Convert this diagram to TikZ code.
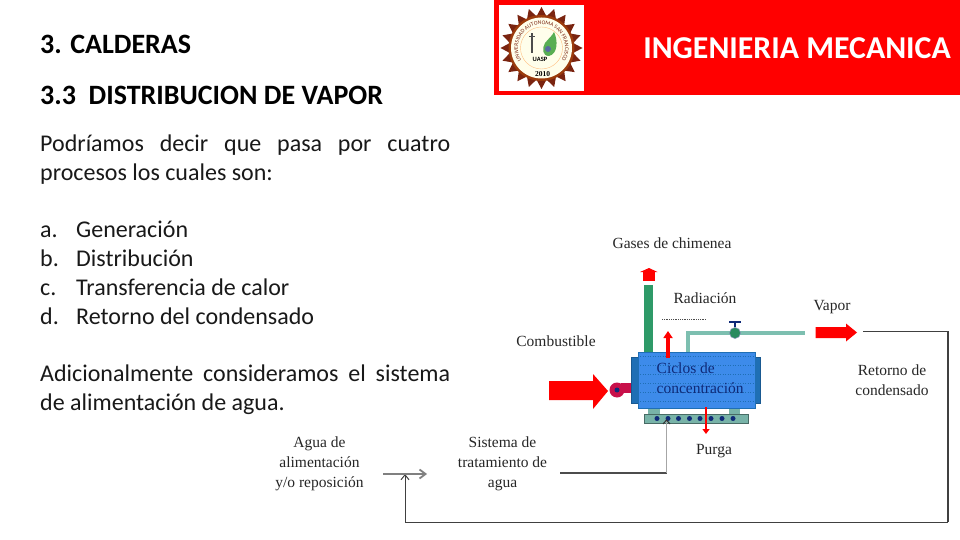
\documentclass[tikz,border=0pt]{standalone}
\usepackage{fontspec}
\setmainfont{Carlito}
\newfontfamily\diag{Liberation Serif}
\usetikzlibrary{arrows.meta,decorations.text}
\definecolor{bannerred}{HTML}{FF0000}
\definecolor{boilerblue}{HTML}{3D8BEA}
\definecolor{capblue}{HTML}{1F6FB5}
\definecolor{stackgreen}{HTML}{2E9A68}
\definecolor{pipegreen}{HTML}{7DBFB0}
\definecolor{basegreen}{HTML}{78B3A8}
\definecolor{navy}{HTML}{0F2A78}
\definecolor{crimson}{HTML}{C8104A}
\definecolor{maroon}{HTML}{7A2410}
\tikzset{
  x=1pt,y=-1pt,
  head/.style={anchor=base west,inner sep=0pt,font=\bfseries\fontsize{28}{29}\selectfont,text=black},
  body/.style={anchor=base west,inner sep=0pt,font=\fontsize{24}{29}\selectfont,text=black!90},
  lbl/.style={inner sep=0pt,align=center,font=\diag\fontsize{15.5}{20}\selectfont,text=black!85},
  thinred/.style={draw=bannerred,line width=2.2pt,-{Triangle[length=5pt,width=7pt]}},
  retline/.style={draw=black!75,line width=1.3pt},
  grayline/.style={draw=black!50,line width=1.8pt},
  bluebox/.style={draw=capblue,line width=1pt,fill=boilerblue,inner sep=0pt},
  capbox/.style={draw=capblue!80!black,line width=.8pt,fill=capblue,inner sep=0pt},
  footbox/.style={fill=basegreen,inner sep=0pt},
  dotn/.style={circle,fill=navy,inner sep=0pt,minimum size=5pt}
}
\begin{document}
\begin{tikzpicture}
\useasboundingbox (0,0) rectangle (960,540);
\fill[white] (0,0) rectangle (960,540);
% banner
\node[fill=bannerred,minimum width=466pt,minimum height=95pt,inner sep=0pt,anchor=north west] (banner) at (494,0) {};
\node[fill=white,minimum width=85pt,minimum height=86pt,inner sep=0pt,anchor=north west] (logobg) at (499,5) {};
\node[anchor=center,inner sep=0pt,text=white,font=\bfseries\fontsize{31.8}{33}\selectfont] (title) at (797,48) {INGENIERIA MECANICA};
% logo
\foreach \a in {0,18,...,342}{
  \fill[maroon] ({541.5+41*cos(\a)},{48+41*sin(\a)}) -- ({541.5+32*cos(\a-9)},{48+32*sin(\a-9)}) -- ({541.5+32*cos(\a+9)},{48+32*sin(\a+9)}) -- cycle;
}
\fill[maroon!75!orange] (541.5,48) circle[radius=33pt];
\fill[white!92!yellow] (541.5,48) circle[radius=30.5pt];
\draw[orange!50,line width=.4pt] (541.5,48) circle[radius=21pt];
\path[postaction={decorate},decoration={text along path,text align=center,
  text={|\fontsize{5.6}{6}\selectfont\color{maroon}|UNIVERSIDAD AUTONOMA SAN FRANCISCO}}]
  (522.25,61.48) .. controls (511.35,45.92) and (522.5,24.5) .. (541.5,24.5) .. controls (560.5,24.5) and (571.65,45.92) .. (560.75,61.48);
\fill[stackgreen!80!yellow] (545,43) .. controls (549,38) and (552,36) .. (554,32) .. controls (558,40) and (558,54) .. (549,56) .. controls (542,56) and (542,48) .. (545,43);
\fill[navy!70] (548,49) circle[radius=3pt];
\fill[black!70] (531,33) rectangle (532.5,53);
\fill[black!70] (529,36) rectangle (535,37.5);
\node[inner sep=0pt,font=\bfseries\fontsize{6.5}{7}\selectfont] (uasp) at (540,59) {UASP};
\node[inner sep=0pt,font=\diag\bfseries\fontsize{7.5}{8}\selectfont] (year) at (542.5,74) {2010};
% left text
\node[head] (h1) at (40,53.5) {3. CALDERAS};
\node[head] (h2) at (40,104.5) {3.3\ \ DISTRIBUCION DE VAPOR};
\node[body] (p1a) at (40,151.5) {\makebox[410pt][s]{Podríamos decir que pasa por cuatro}};
\node[body] (p1b) at (40,180) {procesos los cuales son:};
\foreach \y/\m/\t in {237.5/a./Generación,266/b./Distribución,295/c./Transferencia de calor,324/d./Retorno del condensado}{
  \node[body] at (40,\y) {\m};
  \node[body] at (76,\y) {\t};
}
\node[body] (p2a) at (40,381.5) {\makebox[410pt][s]{Adicionalmente consideramos el sistema}};
\node[body] (p2b) at (40,410.5) {de alimentación de agua.};
% labels
\node[lbl] (gases) at (672,243) {Gases de chimenea};
\node[lbl] (rad) at (705,298) {Radiación};
\node[lbl] (comb) at (556,341) {Combustible};
\node[lbl] (vapor) at (832,307) {Vapor};
\node[lbl] (ret) at (892,380.5) {Retorno de\\condensado};
\node[lbl] (purga) at (714,451) {Purga};
\node[lbl] (agua) at (319.5,463.5) {Agua de\\alimentación\\y/o reposición};
\node[lbl] (sist) at (502.5,463.5) {Sistema de\\tratamiento de\\agua};
% boiler
\node[capbox,minimum width=7pt,minimum height=46pt,anchor=north west] (capl) at (631,357) {};
\node[capbox,minimum width=6pt,minimum height=46pt,anchor=north west] (capr) at (754,357) {};
\node[bluebox,minimum width=117pt,minimum height=56pt,anchor=north west] (boiler) at (638,352) {};
\foreach \y in {356,365,374,383,392,401}{
  \draw[capblue,line width=.5pt,dotted] (640,\y) -- (753,\y);
}
\node[inner sep=0pt,anchor=west,align=left,font=\diag\fontsize{15.5}{20}\selectfont,text=navy] (ciclos) at (656.5,378) {Ciclos de\\concentración};
\node[footbox,minimum width=12pt,minimum height=5pt,anchor=north west] (footl) at (648,408.5) {};
\node[footbox,minimum width=11pt,minimum height=5pt,anchor=north west] (footr) at (729,408.5) {};
\node[draw=basegreen!60!black,fill=basegreen,line width=.8pt,minimum width=104pt,minimum height=9pt,inner sep=0pt,anchor=north west] (base) at (644,414) {};
\foreach \x in {657,668,678.5,689.5,700,711,722,733}{ \node[dotn] at (\x,418.5) {}; }
% stack
\coordinate (stacktop) at (648.5,285);
\draw[stackgreen,line width=8.5pt] (boiler.north -| stacktop) -- (stacktop);
\node[fill=bannerred,minimum width=12pt,minimum height=9pt,inner sep=0pt,anchor=north] (gasbody) at (649,272) {};
\fill[bannerred] (640,272) -- (649,268) -- (657.5,272) -- cycle;
% radiation
\coordinate (radtip) at (668,331);
\coordinate (radbase) at (668,358);
\draw[bannerred,line width=4pt,-{Triangle[length=7pt,width=9pt]}] (radbase) -- (radtip);
\coordinate (rad1) at (662,319); \coordinate (rad2) at (706,319);
\draw[black!70,line width=.8pt,densely dotted] (rad1) -- (rad2);
% steam pipe
\coordinate (pipe0) at (688,352); \coordinate (pipe1) at (688,333); \coordinate (pipeend) at (805,332.5);
\draw[pipegreen,line width=4pt] (pipe0) -- (pipe1) -- (pipe1 -| pipeend);
\node[circle,fill=stackgreen!90!black,draw=navy!50,line width=.5pt,minimum size=11pt,inner sep=0pt] (valve) at (735,333) {};
\coordinate (vtop) at (735,322);
\draw[navy,line width=1.5pt] (valve.north) -- (vtop);
\draw[navy,line width=2.2pt] (729,322) -- (741,322);
% vapor arrow
\fill[bannerred] (815.5,327) -- (846,327) -- (846,323.5) -- (857,332.5) -- (846,341.5) -- (846,338) -- (815.5,338) -- cycle;
% fuel arrow
\fill[bannerred] (549,381) -- (593,381) -- (593,374) -- (608,391) -- (593,409) -- (593,400) -- (549,400) -- cycle;
% burner
\fill[crimson] (621,383) rectangle (631,393);
\node[circle,fill=crimson,minimum size=15pt,inner sep=0pt] (burner) at (617,390) {};
\node[circle,fill=navy,minimum size=5pt,inner sep=0pt] at (617,390) {};
% purge
\coordinate (pst) at (706,407); \coordinate (pend) at (706,434);
\draw[thinred] (pst) -- (pend);
% return
\coordinate (r0) at (863,331); \coordinate (r1) at (948,331); \coordinate (r2) at (948,522); \coordinate (r3) at (405,522); \coordinate (r4) at (405,474);
\draw[retline,line width=1pt] (r0) -- (r1);
\draw[retline] (r1) -- (r2);
\draw[retline,line width=1pt,-{Straight Barb[length=5pt,width=8pt]}] (r2) -- (r3) -- (r4);
\coordinate (g0) at (383,474); \coordinate (g1) at (427,474);
\draw[grayline,-{Straight Barb[length=6pt,width=9pt]}] (g0) -- (g1);
\coordinate (t0) at (560,473); \coordinate (t1) at (666.5,473); \coordinate (t2) at (666.5,420);
\draw[black!70,line width=1.2pt] (t0) -- (t1);
\draw[draw=black!35,line width=1.3pt] (t1) -- (t2);
\draw[black!80,line width=1pt] (663,424) -- (666.5,420) -- (670,424);
\end{tikzpicture}
\end{document}
